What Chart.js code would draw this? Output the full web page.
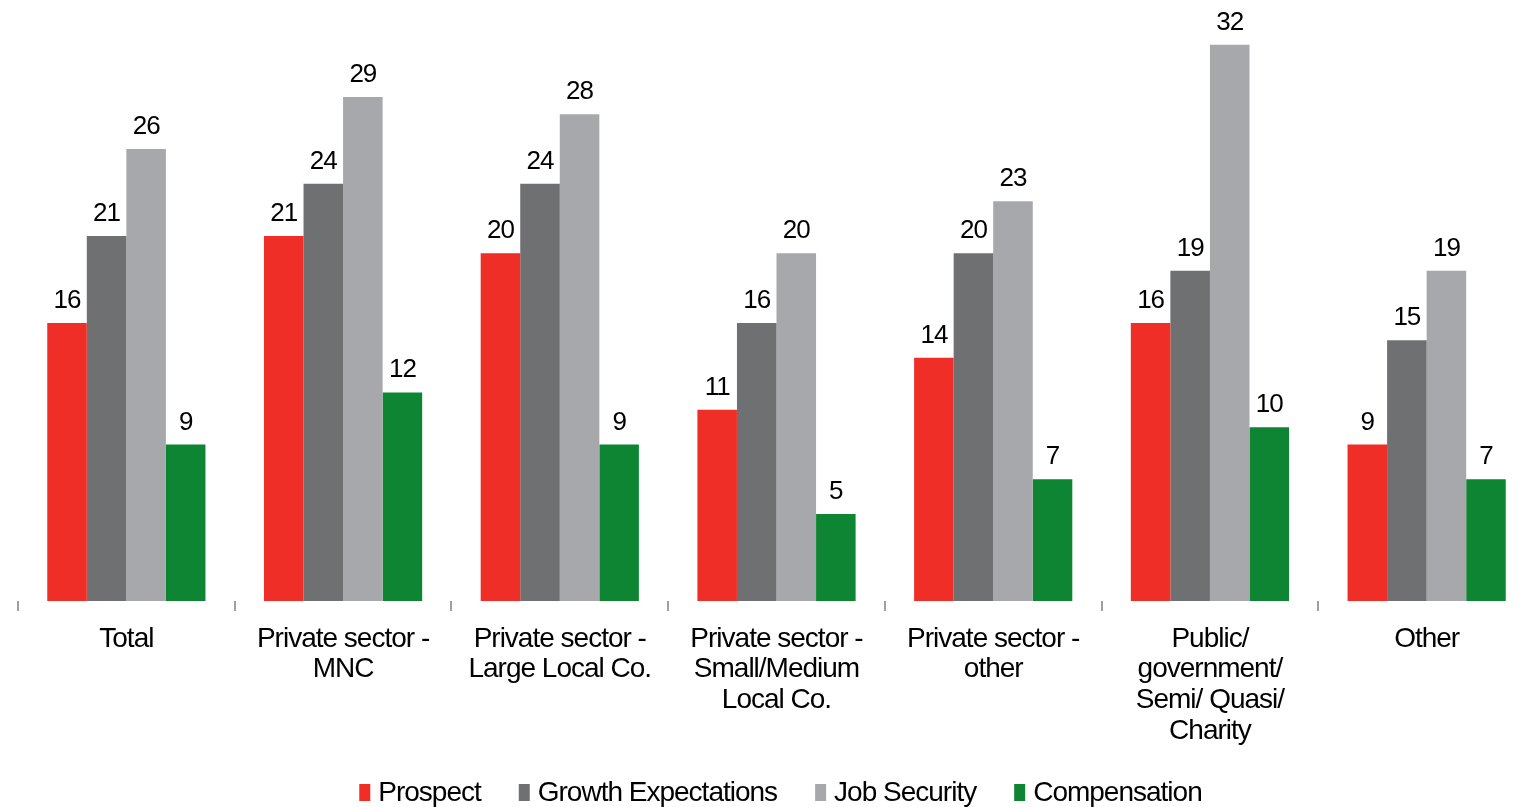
<!DOCTYPE html>
<html>
<head>
<meta charset="utf-8">
<script src="https://cdn.jsdelivr.net/npm/chart.js@4.4.1/dist/chart.umd.min.js"></script>
<style>
  html, body { margin: 0; padding: 0; background: #fff; width: 1524px; height: 807px; overflow: hidden; }
  #wrap { width: 1545px; height: 807px; }
</style>
</head>
<body>
<div id="wrap"><canvas id="c" width="1545" height="807"></canvas></div>
<script>
// Sector categories (multi-line labels)
const categories = [
  'Total',
  ['Private sector -', 'MNC'],
  ['Private sector -', 'Large Local Co.'],
  ['Private sector -', 'Small/Medium', 'Local Co.'],
  ['Private sector -', 'other'],
  ['Public/', 'government/', 'Semi/ Quasi/', 'Charity'],
  'Other'
];

// Share of respondents citing each factor
const prospect           = [16, 21, 20, 11, 14, 16, 9];
const growthExpectations = [21, 24, 24, 16, 20, 19, 15];
const jobSecurity        = [26, 29, 28, 20, 23, 32, 19];
const compensation       = [9, 12, 9, 5, 7, 10, 7];

const FONT = "'Liberation Sans', Arial, sans-serif";

// Tight tracking for all canvas text
const trackingPlugin = {
  id: 'tracking',
  beforeInit(chart) { chart.ctx.letterSpacing = '-1px'; },
  beforeUpdate(chart) { chart.ctx.letterSpacing = '-1px'; },
  beforeDraw(chart) { chart.ctx.letterSpacing = '-1px'; }
};

// Value printed above every bar
const valueLabels = {
  id: 'valueLabels',
  afterDatasetsDraw(chart) {
    const ctx = chart.ctx;
    ctx.save();
    ctx.letterSpacing = '-1px';
    ctx.font = '26px ' + FONT;
    ctx.fillStyle = '#000';
    ctx.textAlign = 'center';
    ctx.textBaseline = 'alphabetic';
    chart.data.datasets.forEach((ds, di) => {
      const meta = chart.getDatasetMeta(di);
      meta.data.forEach((bar, i) => {
        ctx.fillText(String(ds.data[i]), bar.x, bar.y - 15);
      });
    });
    ctx.restore();
  }
};

// Legend row under the axis labels
const bottomLegend = {
  id: 'bottomLegend',
  afterDraw(chart) {
    const ctx = chart.ctx;
    ctx.save();
    ctx.letterSpacing = '-1px';
    ctx.font = '28px ' + FONT;
    const boxW = 11, boxH = 17, boxGap = 8, itemGap = 38;
    const items = chart.data.datasets.map(ds => ({
      text: ds.label, color: ds.backgroundColor, w: ctx.measureText(ds.label).width
    }));
    const total = items.reduce((s, it) => s + boxW + boxGap + it.w, 0) + itemGap * (items.length - 1);
    const area = chart.chartArea;
    let x = (area.left + area.right) / 2 + 4 - total / 2;
    const baseY = 801;
    items.forEach(it => {
      ctx.fillStyle = it.color;
      ctx.fillRect(x, baseY - boxH, boxW, boxH);
      x += boxW + boxGap;
      ctx.fillStyle = '#000';
      ctx.textAlign = 'left';
      ctx.textBaseline = 'alphabetic';
      ctx.fillText(it.text, x, baseY);
      x += it.w + itemGap;
    });
    ctx.restore();
  }
};

new Chart(document.getElementById('c'), {
  type: 'bar',
  data: {
    labels: categories,
    datasets: [
      { label: 'Prospect', data: prospect, backgroundColor: '#EE2E27' },
      { label: 'Growth Expectations', data: growthExpectations, backgroundColor: '#6F7072' },
      { label: 'Job Security', data: jobSecurity, backgroundColor: '#A7A8AB' },
      { label: 'Compensation', data: compensation, backgroundColor: '#0D8533' }
    ]
  },
  options: {
    responsive: false,
    animation: false,
    devicePixelRatio: 1,
    layout: { padding: { left: 18, right: 10, top: 10, bottom: 0 } },
    datasets: { bar: { categoryPercentage: 0.73, barPercentage: 1.0, borderWidth: 0 } },
    plugins: {
      legend: { display: false },
      tooltip: { enabled: false }
    },
    scales: {
      x: {
        grid: {
          display: true,
          drawOnChartArea: false,
          drawTicks: true,
          tickLength: 10,
          color: '#A0A0A0',
          lineWidth: 2,
          offset: true
        },
        border: { display: false },
        ticks: {
          color: '#000',
          padding: 13,
          maxRotation: 0,
          autoSkip: false,
          font: { family: FONT, size: 28, lineHeight: 1.09 }
        },
        afterFit(scale) { scale.height = 206; }
      },
      y: {
        display: false,
        min: 0,
        max: 34,
        beginAtZero: true
      }
    }
  },
  plugins: [trackingPlugin, valueLabels, bottomLegend]
});
</script>
</body>
</html>
